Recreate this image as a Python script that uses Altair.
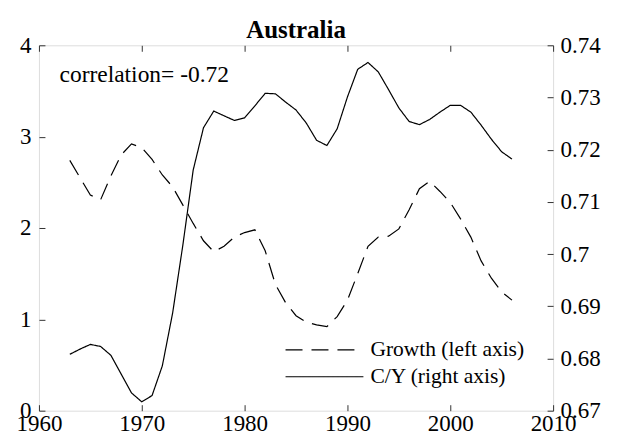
import altair as alt
import pandas as pd

# ---- data ----
years = list(range(1963, 2007))
growth = [2.74, 2.55, 2.36, 2.31, 2.57, 2.80, 2.92, 2.88, 2.75, 2.58,
          2.45, 2.25, 2.05, 1.86, 1.74, 1.80, 1.90, 1.95, 1.98, 1.75,
          1.38, 1.18, 1.04, 0.97, 0.94, 0.92, 1.03, 1.21, 1.50, 1.80,
          1.90, 1.91, 1.99, 2.20, 2.43, 2.51, 2.40, 2.28, 2.10, 1.90,
          1.64, 1.45, 1.30, 1.21]
cy = [0.6808, 0.6818, 0.6827, 0.6823, 0.6806, 0.6770, 0.6734, 0.6717, 0.6729, 0.6786,
      0.6887, 0.7018, 0.7161, 0.7242, 0.7274, 0.7265, 0.7256, 0.7261, 0.7284, 0.7308,
      0.7307, 0.7291, 0.7276, 0.7251, 0.7218, 0.7208, 0.7240, 0.7301, 0.7354, 0.7367,
      0.7349, 0.7315, 0.7280, 0.7254, 0.7248, 0.7258, 0.7272, 0.7285, 0.7285, 0.7272,
      0.7247, 0.7220, 0.7196, 0.7182]
series_names = ["Growth (left axis)", "C/Y (right axis)"]
x_ticks = [1960, 1970, 1980, 1990, 2000, 2010]
left_ticks = [0, 1, 2, 3, 4]
right_ticks = [0.67, 0.68, 0.69, 0.70, 0.71, 0.72, 0.73, 0.74]
title_text = "Australia"
corr_label = ["correlation= -0.72"]
corr_year = [1962]
corr_value = [3.6]

df_g = pd.DataFrame({"year": years, "value": growth, "series": series_names[0]})
df_c = pd.DataFrame({"year": years, "value": cy, "series": series_names[1]})
df_t = pd.DataFrame({"year": corr_year, "value": corr_value, "label": corr_label})

FONT = "Liberation Serif, Times New Roman, serif"
AX = "#333333"
LBL = 23

x_scale = alt.Scale(domain=[1960, 2010], nice=False, zero=False)
dash_scale = alt.Scale(domain=series_names, range=[[17, 9], [1, 0]])

legend = alt.Legend(
    title=None, orient="none", legendX=275, legendY=294,
    symbolType="M-3.9,0H3.9", symbolSize=400,
    symbolStrokeColor="black", symbolStrokeWidth=1.2,
    labelFont=FONT, labelFontSize=21.5, labelColor="black",
    labelOffset=35, rowPadding=5, padding=0,
)

def axis(orient, values, labels=True, fmt=None, pad=7):
    kw = dict(orient=orient, values=values, title=None, grid=False, domain=False,
              offset=-6, tickSize=6, tickColor=AX, tickWidth=1,
              labels=labels, labelFont=FONT, labelFontSize=LBL, labelColor="black",
              labelPadding=pad, labelFlush=False, labelOverlap=False)
    if fmt:
        kw["format"] = fmt
    return alt.Axis(**kw)

growth_line = alt.Chart(df_g).mark_line(color="black", strokeWidth=1.2).encode(
    x=alt.X("year:Q", scale=x_scale, axis=axis("bottom", x_ticks, fmt="d", pad=2)),
    y=alt.Y("value:Q", scale=alt.Scale(domain=[0, 4], nice=False, zero=False),
            axis=axis("left", left_ticks, fmt="d", pad=8)),
    strokeDash=alt.StrokeDash("series:N", scale=dash_scale, legend=legend),
)

cy_line = alt.Chart(df_c).mark_line(color="black", strokeWidth=1.2).encode(
    x=alt.X("year:Q", scale=x_scale, axis=axis("top", x_ticks, labels=False)),
    y=alt.Y("value:Q", scale=alt.Scale(domain=[0.67, 0.74], nice=False, zero=False),
            axis=axis("right", right_ticks, fmt=".2~f", pad=7)),
    strokeDash=alt.StrokeDash("series:N", scale=dash_scale, legend=legend),
)

corr_text = alt.Chart(df_t).mark_text(
    align="left", baseline="alphabetic", font=FONT, fontSize=23.5, color="black"
).encode(
    x=alt.X("year:Q", scale=x_scale, axis=None),
    y=alt.Y("value:Q", scale=alt.Scale(domain=[0, 4], nice=False, zero=False), axis=None),
    text="label:N",
)

chart = alt.layer(growth_line, cy_line, corr_text).resolve_scale(
    y="independent", strokeDash="shared"
).resolve_axis(
    x="independent", y="independent"
).properties(
    width=515, height=366,
    title=alt.Title(title_text, font=FONT, fontSize=25, fontWeight="bold",
                    color="black", offset=-9, anchor="middle"),
    autosize=alt.AutoSizeParams(type="none"),
    padding={"left": 31, "top": 37, "right": 60, "bottom": 24},
).configure_view(
    stroke=AX, strokeWidth=1.3
).configure(background="white")

chart.save("out.html", embed_options={"renderer": "svg", "actions": False})
